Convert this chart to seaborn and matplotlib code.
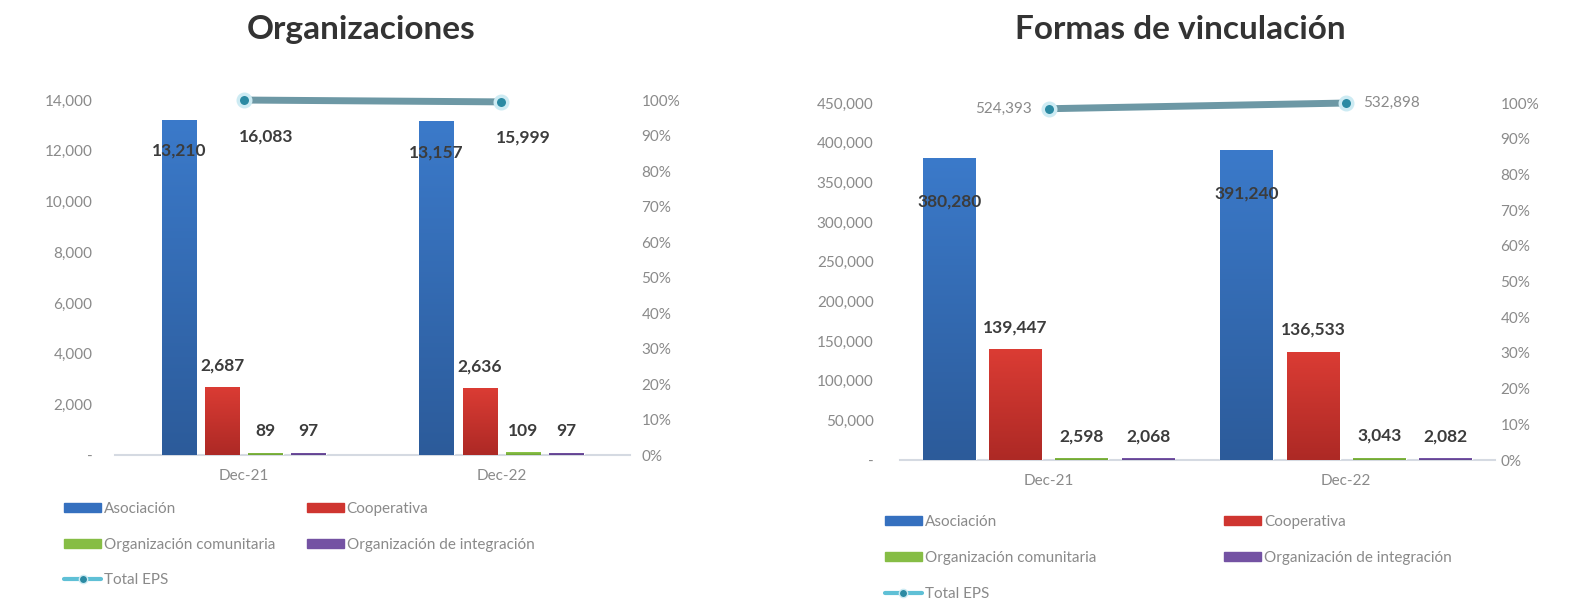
import matplotlib
matplotlib.use("Agg")
import matplotlib.pyplot as plt
import seaborn as sns
import numpy as np
import pandas as pd
from matplotlib.patches import Patch
from matplotlib.lines import Line2D
from matplotlib.colors import LinearSegmentedColormap
from matplotlib.ticker import FuncFormatter, PercentFormatter, MultipleLocator

# data
periods = ["Dec-21", "Dec-22"]
tipos = ["Asociación", "Cooperativa", "Organización comunitaria",
         "Organización de integración"]

org_asociacion = [13210, 13157]
org_cooperativa = [2687, 2636]
org_comunitaria = [89, 109]
org_integracion = [97, 97]
org_total = [16083, 15999]

vin_asociacion = [380280, 391240]
vin_cooperativa = [139447, 136533]
vin_comunitaria = [2598, 3043]
vin_integracion = [2068, 2082]
vin_total = [524393, 532898]

colors = ["#3570bf", "#cf3530", "#86bd45", "#7452a3"]
# bottom -> top shades for the gradient fill
shades = [("#2c5b9a", "#3b7aca"), ("#ad2925", "#db3c34"),
          ("#6fa234", "#8fc94c"), ("#5e3f8a", "#7e5cb0")]
line_color = "#6d98a5"
grey = "#8a8a8a"
dark = "#3c3c3c"

sns.set_style("white")
plt.rcParams["font.family"] = ["Lato", "DejaVu Sans"]


def to_frame(series):
    rows = []
    for tipo, vals in zip(tipos, series):
        for p, v in zip(periods, vals):
            rows.append({"periodo": p, "tipo": tipo, "valor": v})
    return pd.DataFrame(rows)


def shade_bars(ax):
    grad = np.linspace(0, 1, 256).reshape(-1, 1)
    for i, cont in enumerate(ax.containers):
        cmap = LinearSegmentedColormap.from_list(f"g{i}", shades[i])
        for bar in cont:
            x, y = bar.get_x(), bar.get_y()
            w, h = bar.get_width(), bar.get_height()
            im = ax.imshow(grad, cmap=cmap, origin="lower", aspect="auto",
                           extent=[x, x + w, y, y + h], zorder=bar.get_zorder())
            im.set_clip_path(bar)


def draw_panel(ax, series, total, ymax, ystep, width, gap, top_pad,
               ylab_pad, pct_pad, total_style):
    df = to_frame(series)
    sns.barplot(data=df, x="periodo", y="valor", hue="tipo", palette=colors,
                width=width, gap=gap, saturation=1, legend=False, ax=ax)
    shade_bars(ax)
    for i, cont in enumerate(ax.containers):
        labels = [f"{v:,.0f}" for v in series[i]]
        ax.bar_label(cont, labels=labels, padding=top_pad if i == 0 else 10,
                     fontsize=12.5, fontweight="bold", color=dark)
    ax.set_xlim(-0.5, 1.5)
    ax.set_ylim(0, ymax)
    ax.yaxis.set_major_locator(MultipleLocator(ystep))
    ax.yaxis.set_major_formatter(
        FuncFormatter(lambda v, _: "-" if v == 0 else f"{v:,.0f}"))
    ax.set_xlabel("")
    ax.set_ylabel("")
    for s in ["left", "right", "top"]:
        ax.spines[s].set_visible(False)
    ax.spines["bottom"].set_color("#d5dae2")
    ax.spines["bottom"].set_linewidth(1.5)
    ax.spines["bottom"].set_zorder(0.5)
    ax.tick_params(axis="y", length=0, labelsize=11, labelcolor=grey, pad=ylab_pad)
    ax.tick_params(axis="x", length=0, labelsize=11, labelcolor=grey, pad=10)

    ax2 = ax.twinx()
    ax2.plot([0, 1], total, color=line_color, lw=5, marker="o", markersize=9,
             markerfacecolor="#2b8aa3", markeredgecolor="#cdebf3",
             markeredgewidth=2.5, clip_on=False, zorder=5)
    ax2.set_ylim(0, max(total))
    ax2.yaxis.set_major_locator(MultipleLocator(max(total) / 10))
    ax2.yaxis.set_major_formatter(PercentFormatter(xmax=max(total), decimals=0))
    ax2.tick_params(axis="y", length=0, labelsize=11, labelcolor=grey, pad=pct_pad)
    for s in ax2.spines.values():
        s.set_visible(False)

    for i, v in enumerate(total):
        if total_style == "bold":
            ax2.annotate(f"{v:,.0f}", (i, v), xytext=(16, -26),
                         textcoords="offset points", ha="center", va="center",
                         fontsize=12.5, fontweight="bold", color=dark)
        else:
            off = -12 if i == 0 else 12
            ax2.annotate(f"{v:,.0f}", (i, v), xytext=(off, 0),
                         textcoords="offset points",
                         ha="right" if i == 0 else "left", va="center",
                         fontsize=11, color=grey)
    return ax2


fig = plt.figure(figsize=(15.72, 5.99), dpi=100)
ax_l = fig.add_axes([0.073, 0.240, 0.328, 0.593])
ax_r = fig.add_axes([0.5725, 0.232, 0.3785, 0.596])

draw_panel(ax_l, [org_asociacion, org_cooperativa, org_comunitaria, org_integracion],
           org_total, 14000, 2000, 0.67, 0.2, -28, 16, 8, "bold")
draw_panel(ax_r, [vin_asociacion, vin_cooperativa, vin_comunitaria, vin_integracion],
           vin_total, 450000, 50000, 0.89, 0.2, -37, 19, 4, "plain")

fig.text(0.230, 0.95, "Organizaciones", ha="center", va="center",
         fontsize=24, fontweight="bold", color="#333333")
fig.text(0.751, 0.95, "Formas de vinculación", ha="center", va="center",
         fontsize=24, fontweight="bold", color="#333333")

handles = [Patch(color=c) for c in colors]
total_handle = Line2D([], [], color="#5fc0d6", lw=3, marker="o", markersize=6,
                      markerfacecolor="#2b8aa3", markeredgecolor="#cdebf3")
order_h = [handles[0], handles[2], total_handle, handles[1], handles[3]]
order_l = [tipos[0], tipos[2], "Total EPS", tipos[1], tipos[3]]

for x0, y0, colsp in [(0.041, 0.162, 2.05), (0.563, 0.140, 8.4)]:
    fig.legend(order_h, order_l, loc="upper left", bbox_to_anchor=(x0, y0),
               ncol=2, frameon=False, fontsize=11, labelcolor=grey,
               handlelength=2.4, handleheight=0.55, handletextpad=0.2,
               labelspacing=1.42, columnspacing=colsp, borderpad=0,
               borderaxespad=0)

fig.savefig("out.png", dpi=100)
